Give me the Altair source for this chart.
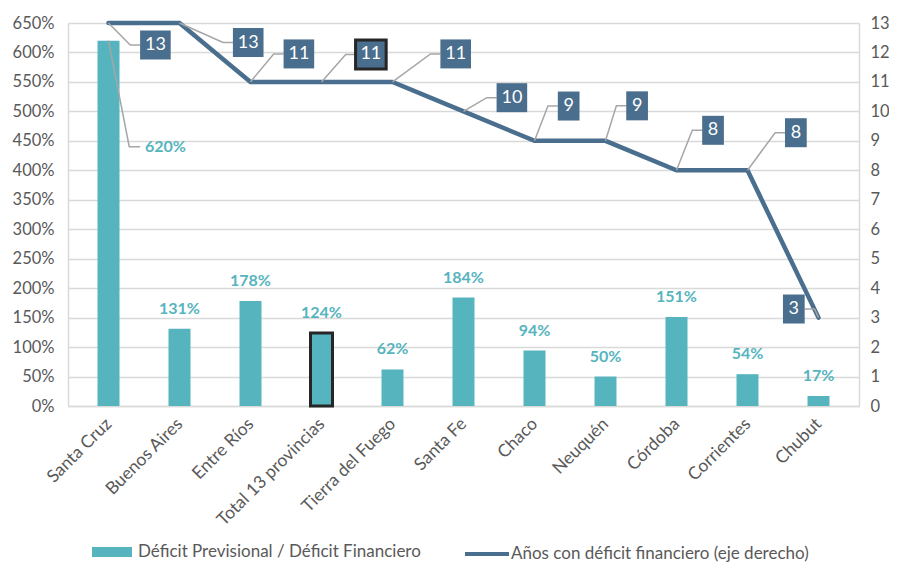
import json
import altair as alt
import pandas as pd

# ---------------- data ----------------
categories = ["Santa Cruz", "Buenos Aires", "Entre Ríos", "Total 13 provincias",
              "Tierra del Fuego", "Santa Fe", "Chaco", "Neuquén", "Córdoba",
              "Corrientes", "Chubut"]
ratio = [6.20, 1.31, 1.78, 1.24, 0.62, 1.84, 0.94, 0.50, 1.51, 0.54, 0.17]
years = [13, 13, 11, 11, 11, 10, 9, 9, 8, 8, 3]
bar_series = "Déficit Previsional / Déficit Financiero"
line_series = "Años con déficit financiero (eje derecho)"
highlight = "Total 13 provincias"

# label placement (pixel offsets of the boxed labels from the line vertices)
label_dx = [47.5, 69.6, 49, 50, 64, 49, 34.6, 32, 37, 49, -25]
label_dy = [22, 19.5, -28, -27.5, -28, -13.7, -34.8, -35, -40, -37.6, -8.6]
# Santa Cruz bar label is pulled out with a leader line
sc_label_dx = 37
sc_label_value = 4.40

# ---------------- layout / style ----------------
W, H = 791, 383
PX_X = W / 11.0
PX_YR = H / 13.0
TEAL = "#56B4BE"
NAVY = "#4A6E8D"
GREY_TXT = "#595959"
GRID = "#D9D9D9"
LEADER = "#A6A6A6"
FONT = "Lato"

idx = list(range(len(categories)))
bars = pd.DataFrame({"i": idx, "cat": categories, "ratio": ratio, "serie": bar_series})
line = pd.DataFrame({"i": idx, "cat": categories, "years": years, "serie2": line_series})

# boxed labels
lab_rows, lead_rows = [], []
for i, (v, dx, dy) in enumerate(zip(years, label_dx, label_dy)):
    lx = i + dx / PX_X
    ly = v - dy / PX_YR
    hw = 15.5 if v >= 10 else 11.0
    hh = 14.5
    lab_rows.append({"i": i, "cat": categories[i], "txt": str(v), "lx": lx, "ly": ly,
                     "x1": lx - hw / PX_X, "x2": lx + hw / PX_X,
                     "y1": ly - hh / PX_YR, "y2": ly + hh / PX_YR})
    s = 1 if dx > 0 else -1
    edge = lx - s * hw / PX_X
    elbow = edge - s * 10 / PX_X
    for k, (xx, yy) in enumerate([(i, v), (elbow, ly), (edge, ly)]):
        lead_rows.append({"lid": i, "o": k, "x": xx, "y": yy})
labels = pd.DataFrame(lab_rows)
leaders = pd.DataFrame(lead_rows)

sc_lead = pd.DataFrame({
    "o": [0, 1, 2],
    "x": [0, (sc_label_dx - 16) / PX_X, (sc_label_dx - 5) / PX_X],
    "y": [ratio[0], sc_label_value, sc_label_value],
})
sc_lab = pd.DataFrame({"x": [sc_label_dx / PX_X], "y": [sc_label_value],
                       "txt": [f"{round(ratio[0]*100)}%"]})

label_expr = "[" + ",".join(json.dumps(c, ensure_ascii=False) for c in categories) + "][datum.value]"

xscale = alt.Scale(domain=[-0.5, 10.5], nice=False, zero=False)
x_axis = alt.Axis(values=idx, labelExpr=label_expr, labelAngle=-45, labelAlign="right",
                  labelBaseline="middle", labelPadding=15, ticks=False, grid=False,
                  domainColor=GRID, domainWidth=1.5, labelColor=GREY_TXT, labelFont=FONT,
                  labelFontSize=17.5, title=None, labelOverlap=False)
yl_scale = alt.Scale(domain=[0, 6.5], nice=False, zero=True)
yl_axis = alt.Axis(values=[k * 0.5 for k in range(14)], format=".0%", orient="left",
                   ticks=False, grid=True, gridColor=GRID, gridWidth=1.5,
                   domainColor=GRID, domainWidth=1.5, labelColor=GREY_TXT,
                   labelFont=FONT, labelFontSize=16.5, labelPadding=14, title=None)
yr_scale = alt.Scale(domain=[0, 13], nice=False, zero=True)
yr_axis = alt.Axis(values=list(range(14)), orient="right", ticks=False, grid=False,
                   domainColor=GRID, domainWidth=1.5, labelColor=GREY_TXT, labelFont=FONT,
                   labelFontSize=16.5, labelPadding=11, title=None)


def X(f):
    return alt.X(f, scale=xscale, axis=x_axis)


def YL(f):
    return alt.Y(f, scale=yl_scale, axis=yl_axis)


def YR(f):
    return alt.Y(f, scale=yr_scale, axis=yr_axis)


# ---------------- left group (bars) ----------------
bar_layer = alt.Chart(bars).mark_bar(size=22).encode(
    x=X("i:Q"),
    y=YL("ratio:Q"),
    fill=alt.Fill("serie:N", scale=alt.Scale(domain=[bar_series], range=[TEAL]),
                  legend=alt.Legend(orient="none", legendX=24, legendY=509, title=None,
                                    symbolType="M-1,-0.25H1V0.25H-1Z", symbolSize=1600,
                                    symbolStrokeWidth=0, labelFont=FONT, labelFontSize=17,
                                    labelColor=GREY_TXT, labelLimit=500, labelOffset=6,
                                    padding=0)),
)
hl_layer = alt.Chart(bars).transform_filter(alt.datum.cat == highlight).mark_bar(
    size=22, fill=TEAL, stroke="#262626", strokeWidth=3
).encode(x=X("i:Q"), y=YL("ratio:Q"))

bar_text = alt.Chart(bars).transform_filter(alt.datum.i > 0).mark_text(
    dy=-20, baseline="middle", align="center", font=FONT, fontSize=16, fontWeight="bold", color=TEAL
).encode(x=X("i:Q"), y=YL("ratio:Q"), text=alt.Text("ratio:Q", format=".0%"))

sc_lead_layer = alt.Chart(sc_lead).mark_line(color=LEADER, strokeWidth=1.5).encode(
    x=X("x:Q"), y=YL("y:Q"), order="o:Q")
sc_text = alt.Chart(sc_lab).mark_text(align="left", baseline="middle", font=FONT, fontSize=16,
                                      fontWeight="bold", color=TEAL).encode(
    x=X("x:Q"), y=YL("y:Q"), text="txt:N")

left = alt.layer(bar_layer, hl_layer, bar_text, sc_lead_layer, sc_text)

# ---------------- right group (line) ----------------
line_layer = alt.Chart(line).mark_line(strokeWidth=4.5, strokeCap="round", strokeJoin="miter").encode(
    x=X("i:Q"),
    y=YR("years:Q"),
    stroke=alt.Stroke("serie2:N", scale=alt.Scale(domain=[line_series], range=[NAVY]),
                      legend=alt.Legend(orient="none", legendX=395, legendY=507, title=None,
                                        symbolType="stroke", symbolSize=1936, symbolStrokeWidth=4,
                                        labelFont=FONT, labelFontSize=17, labelColor=GREY_TXT,
                                        labelLimit=500, labelOffset=0, padding=0)),
)
lead_layer = alt.Chart(leaders).mark_line(color=LEADER, strokeWidth=1.5).encode(
    x=X("x:Q"), y=YR("y:Q"), detail="lid:N", order="o:Q")
box_layer = alt.Chart(labels).mark_rect(fill=NAVY).encode(
    x=X("x1:Q"), x2="x2:Q",
    y=YR("y1:Q"), y2="y2:Q",
    stroke=alt.condition(alt.datum.cat == highlight, alt.value("#262626"), alt.value(NAVY)),
    strokeWidth=alt.condition(alt.datum.cat == highlight, alt.value(3), alt.value(0)),
)
box_text = alt.Chart(labels).mark_text(align="center", baseline="middle", font=FONT, fontSize=18,
                                       color="white").encode(
    x=X("lx:Q"), y=YR("ly:Q"), text="txt:N")

right = alt.layer(line_layer, lead_layer, box_layer, box_text)

chart = alt.layer(left, right).resolve_scale(y="independent").properties(
    width=W, height=H,
    autosize=alt.AutoSizeParams(type="none"),
    padding={"left": 60, "top": 15, "right": 30, "bottom": 158},
).configure_view(stroke=None)

chart.save("out.html", embed_options={"renderer": "svg", "actions": False})
